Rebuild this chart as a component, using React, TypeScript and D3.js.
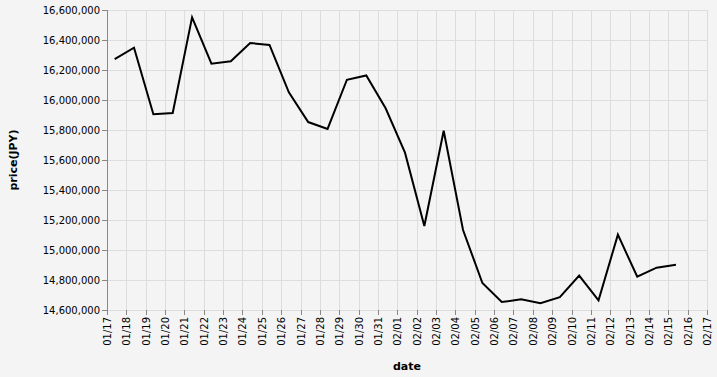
import React from "react";
import * as d3 from "d3";

const dates: string[] = [
  "2024-01-17", "2024-01-18", "2024-01-19", "2024-01-20", "2024-01-21", "2024-01-22",
  "2024-01-23", "2024-01-24", "2024-01-25", "2024-01-26", "2024-01-27", "2024-01-28",
  "2024-01-29", "2024-01-30", "2024-01-31", "2024-02-01", "2024-02-02", "2024-02-03",
  "2024-02-04", "2024-02-05", "2024-02-06", "2024-02-07", "2024-02-08", "2024-02-09",
  "2024-02-10", "2024-02-11", "2024-02-12", "2024-02-13", "2024-02-14", "2024-02-15",
];
const prices: number[] = [
  16273000, 16349000, 15905000, 15913000, 16551000, 16242000,
  16258000, 16380000, 16367000, 16051000, 15853000, 15807000,
  16135000, 16164000, 15945000, 15649000, 15160000, 15795000,
  15133000, 14780000, 14653000, 14671000, 14645000, 14685000,
  14829000, 14665000, 15102000, 14822000, 14882000, 14902000,
];
const yTicks: number[] = [
  14600000, 14800000, 15000000, 15200000, 15400000, 15600000, 15800000,
  16000000, 16200000, 16400000, 16600000,
];
const xDomain: string[] = ["2024-01-17", "2024-02-17"];
const hourOfDay = 9.5;

const W = 717, H = 377;
const left = 107, top = 10, pw = 600, ph = 300;
const font = "DejaVu Sans, sans-serif";

const parse = (s: string) => {
  const [y, m, d] = s.split("-").map(Number);
  return new Date(y, m - 1, d);
};

export default function App() {
  const x = d3.scaleTime().domain(xDomain.map(parse)).range([0, pw]);
  const y = d3.scaleLinear().domain([yTicks[0], yTicks[yTicks.length - 1]]).range([ph, 0]);
  const xTicks = d3.timeDay.range(parse(xDomain[0]), d3.timeDay.offset(parse(xDomain[1]), 1));
  const fmtX = d3.timeFormat("%m/%d");
  const fmtY = d3.format(",");
  const pts = dates.map((d, i) => {
    const t = parse(d);
    t.setHours(Math.floor(hourOfDay), (hourOfDay % 1) * 60);
    return [x(t), y(prices[i])] as [number, number];
  });
  const line = d3.line()(pts) || "";
  return (
    <svg width={W} height={H} style={{ position: "absolute", left: 0, top: 0, display: "block" }}>
      <rect width={W} height={H} fill="#f4f4f4" />
      <g transform={`translate(${left},${top})`}>
        {xTicks.map((t, i) => (
          <line key={"gx" + i} x1={Math.round(x(t)) + 0.5} x2={Math.round(x(t)) + 0.5} y1={0} y2={ph} stroke="#ddd" />
        ))}
        {yTicks.map((v, i) => (
          <line key={"gy" + i} x1={0} x2={pw} y1={y(v) + 0.5} y2={y(v) + 0.5} stroke="#ddd" />
        ))}
        <path d={line} fill="none" stroke="#000" strokeWidth={2} strokeLinejoin="miter" />
        <line x1={0.5} x2={0.5} y1={0} y2={ph} stroke="#888" />
        {yTicks.map((v, i) => (
          <g key={"ty" + i} transform={`translate(0,${y(v) + 0.5})`}>
            <line x1={-5} x2={0} stroke="#888" />
            <text x={-7} dy="0.32em" textAnchor="end" fontFamily={font} fontSize={10} fill="#000">
              {fmtY(v)}
            </text>
          </g>
        ))}
        {xTicks.map((t, i) => (
          <g key={"tx" + i} transform={`translate(${Math.round(x(t)) + 0.5},${ph})`}>
            <line y1={0} y2={5} stroke="#888" />
            <text transform="translate(0,7) rotate(-90)" textAnchor="end" dy="0.32em" fontFamily={font} fontSize={10} fill="#000">
              {fmtX(t)}
            </text>
          </g>
        ))}
        <text x={pw / 2} y={370 - top} textAnchor="middle" fontFamily={font} fontSize={11} fontWeight="bold" fill="#000">
          date
        </text>
        <text transform={`translate(${17 - left},${ph / 2}) rotate(-90)`} textAnchor="middle" fontFamily={font} fontSize={11} fontWeight="bold" fill="#000">
          price(JPY)
        </text>
      </g>
    </svg>
  );
}
